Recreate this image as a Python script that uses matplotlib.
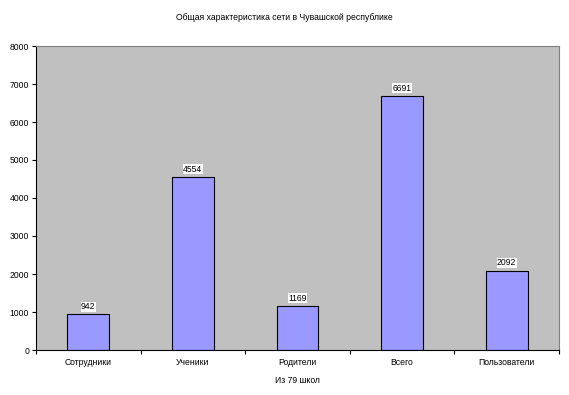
import matplotlib
matplotlib.use("Agg")
import matplotlib.pyplot as plt
import numpy as np

plt.rcParams["font.family"] = ["Liberation Sans", "DejaVu Sans"]

categories = ["Сотрудники", "Ученики", "Родители", "Всего", "Пользователи"]
values = [942, 4554, 1169, 6691, 2092]
y_ticks = [0, 1000, 2000, 3000, 4000, 5000, 6000, 7000, 8000]

FS = 6.2

fig = plt.figure(figsize=(5.69, 3.95), dpi=100)
ax = fig.add_axes([36 / 569, 1 - 350 / 395, 523 / 569, 304 / 395])
ax.set_facecolor("#C0C0C0")

x = np.arange(len(categories))
bars = ax.bar(x, values, width=0.4, color="#9999FF", edgecolor="black", linewidth=0.8)

for b, v in zip(bars, values):
    ax.text(b.get_x() + b.get_width() / 2, v + 80, str(v), ha="center", va="bottom",
            fontsize=FS, bbox=dict(facecolor="white", edgecolor="none", pad=0.3))

ax.set_xlim(-0.5, len(categories) - 0.5)
ax.set_ylim(0, 8000)
ax.set_yticks(y_ticks)
ax.set_yticklabels([str(t) for t in y_ticks], fontsize=FS)
ax.set_xticks(x)
ax.set_xticklabels(categories, fontsize=FS)
ax.tick_params(axis="x", length=0, pad=6)
ax.set_xticks(np.arange(len(categories) + 1) - 0.5, minor=True)
ax.tick_params(axis="x", which="minor", length=3, width=0.8)
ax.tick_params(axis="y", length=3, width=0.8, pad=2)

for s in ["top", "right"]:
    ax.spines[s].set_color("#808080")
    ax.spines[s].set_linewidth(0.8)
for s in ["left", "bottom"]:
    ax.spines[s].set_color("black")
    ax.spines[s].set_linewidth(0.8)

ax.set_xlabel("Из 79 школ", fontsize=FS, labelpad=6)
fig.text(0.5, 1 - 18 / 395, "Общая характеристика сети в Чувашской республике",
         ha="center", va="center", fontsize=FS)

fig.savefig("out.png", dpi=100)
